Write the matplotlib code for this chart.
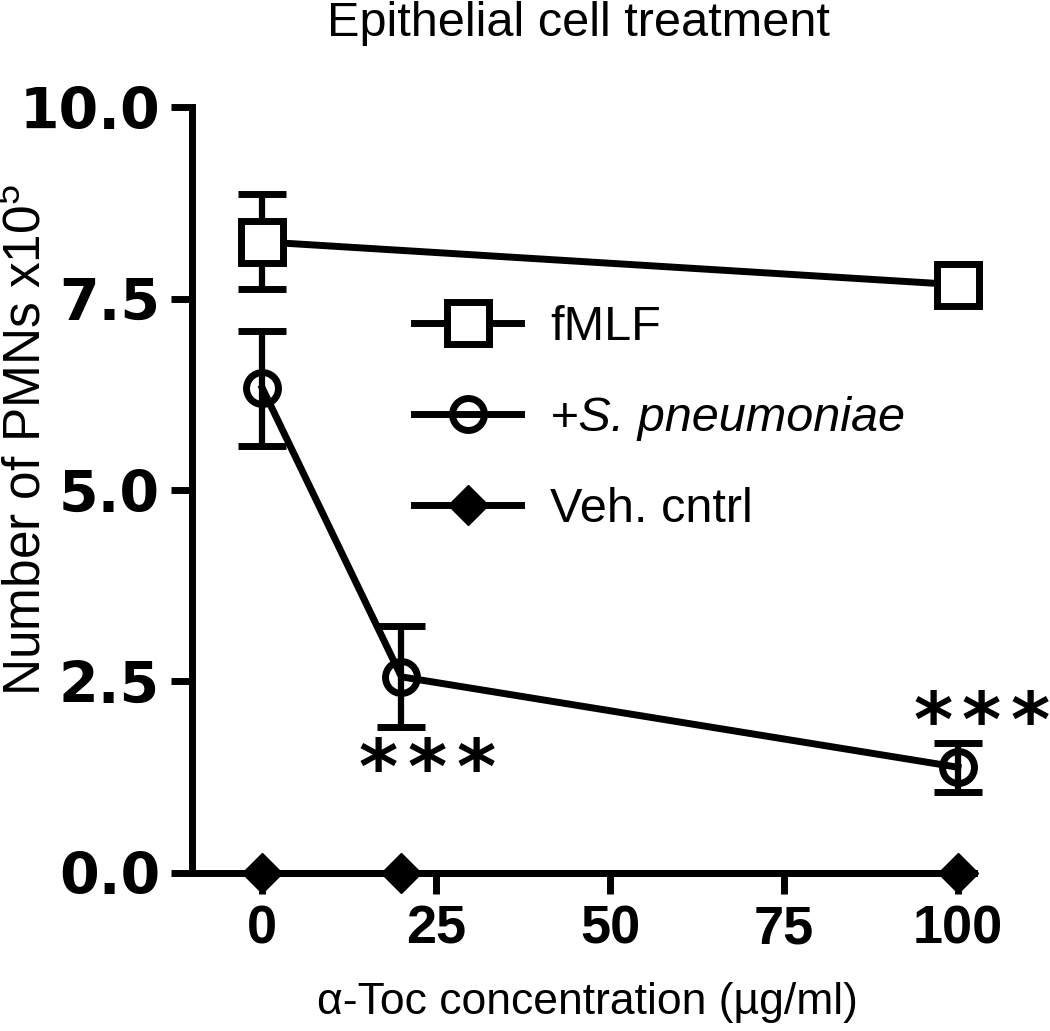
import matplotlib
matplotlib.use('Agg')
import matplotlib.pyplot as plt
from matplotlib.lines import Line2D

# data
conc = [0, 20, 100]
fmlf_x = [0, 100]
fmlf = [8.24, 7.68]
fmlf_err = [0.62, 0.27]
spn = [6.33, 2.56, 1.38]
spn_err = [0.75, 0.66, 0.32]
veh = [0.0, 0.0, 0.0]

x_ticks = [0, 25, 50, 75, 100]
y_ticks = [0.0, 2.5, 5.0, 7.5, 10.0]
sig_x = [23.7, 103.4]
sig_y = [1.04, 1.66]

plt.rcParams['font.family'] = ['Liberation Sans', 'DejaVu Sans']
plt.rcParams['mathtext.fontset'] = 'custom'
plt.rcParams['mathtext.rm'] = 'Liberation Sans'
plt.rcParams['mathtext.it'] = 'Liberation Sans:italic'
plt.rcParams['mathtext.bf'] = 'Liberation Sans:bold'

fig = plt.figure(figsize=(10.5, 10.31), dpi=100)
ax = fig.add_axes([0.1829, 0.1533, 0.7447, 0.7429])

lw = 5
sq_style = dict(marker='s', ms=30, mew=5, mfc='white', mec='black')
ci_style = dict(marker='o', ms=23, mew=5, mfc='none', mec='black')
di_style = dict(marker='D', ms=20, mfc='black', mec='black')

# fMLF - white filled squares
ax.errorbar(fmlf_x, fmlf, yerr=fmlf_err, color='black', lw=lw, capsize=17,
            capthick=5.5, elinewidth=4.5, clip_on=False, zorder=3, **sq_style)
# S. pneumoniae - open circles
ax.errorbar(conc, spn, yerr=spn_err, color='black', lw=lw, capsize=17,
            capthick=5.5, elinewidth=4.5, clip_on=False, zorder=3, **ci_style)
# vehicle control - filled diamonds
ax.plot(conc, veh, color='black', lw=lw, clip_on=False, zorder=4, **di_style)

# significance stars, three per group
star_gap = 7.0
for sx, sy in zip(sig_x, sig_y):
    for k in (-1, 0, 1):
        ax.text(sx + k * star_gap, sy, '*', ha='center', va='baseline',
                fontsize=54, fontweight='bold', family='DejaVu Sans')

ax.set_xlim(-10.1, 102.3)
ax.set_ylim(0, 10)
ax.set_xticks(x_ticks)
ax.set_yticks(y_ticks)
ax.set_yticklabels(['%.1f' % v for v in y_ticks])

for s in ['top', 'right']:
    ax.spines[s].set_visible(False)
for s in ['left', 'bottom']:
    ax.spines[s].set_linewidth(5)

ax.tick_params(axis='both', width=5, length=15)
ax.tick_params(axis='y', pad=8)
ax.tick_params(axis='x', pad=8)
for t in ax.get_yticklabels():
    t.set_family('DejaVu Sans')
    t.set_fontweight('heavy')
    t.set_fontsize(41)
for t in ax.get_xticklabels():
    t.set_family('Liberation Sans')
    t.set_fontweight('bold')
    t.set_fontsize(39)

ax.set_ylabel(r'Number of PMNs x10$^{5}$', fontsize=37)
ax.yaxis.set_label_coords(-0.18, 0.565)
ax.set_xlabel('α-Toc concentration (µg/ml)', fontsize=32)
ax.xaxis.set_label_coords(0.506, -0.143)

fig.text(578 / 1050, 1 - 24 / 1031, 'Epithelial cell treatment',
         ha='center', va='center', fontsize=35)

handles = [Line2D([], [], color='black', lw=lw, **sq_style),
           Line2D([], [], color='black', lw=lw, **ci_style),
           Line2D([], [], color='black', lw=lw, **di_style)]
labels = ['fMLF', '+S. pneumoniae', 'Veh. cntrl']
leg = ax.legend(handles, labels, loc='center left',
                bbox_to_anchor=(0.284, 0.593), frameon=False,
                fontsize=35, handlelength=2.2, handletextpad=0.6,
                labelspacing=0.95, borderpad=0, borderaxespad=0)
leg.get_texts()[1].set_fontstyle('italic')

fig.savefig('out.png', dpi=100)
